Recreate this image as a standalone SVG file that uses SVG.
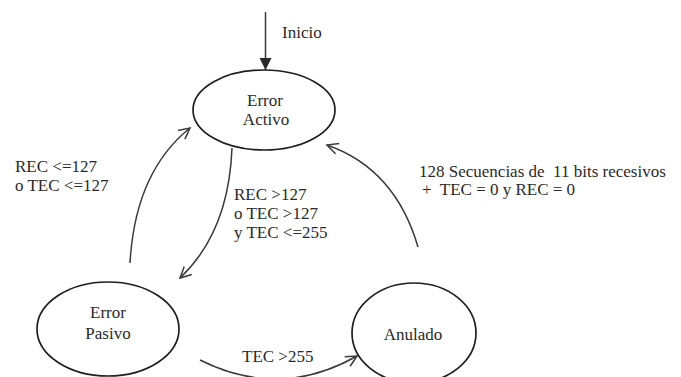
<svg xmlns="http://www.w3.org/2000/svg" width="681" height="377" viewBox="0 0 681 377">
  <style>
    .state { fill: #ffffff; stroke: #1e1e1e; stroke-width: 1.7; }
    .label { font-family: "Liberation Serif", "Times New Roman", serif; font-size: 17px; fill: #2a2a2a; }
    .mid { text-anchor: middle; }
    .edge { fill: none; stroke: #3a3a3a; stroke-width: 1.5; }
  </style>
  <defs>
    <marker id="open" viewBox="-12 -7 14 14" markerWidth="14" markerHeight="14" refX="0" refY="0" orient="auto" markerUnits="userSpaceOnUse">
      <path d="M-11,-5.5 L0,0 L-11,5.5" fill="none" stroke="#3a3a3a" stroke-width="1.5"/>
    </marker>
    <marker id="solid" viewBox="-12 -7 14 14" markerWidth="14" markerHeight="14" refX="0" refY="0" orient="auto" markerUnits="userSpaceOnUse">
      <path d="M-12,-6 L0,0 L-12,6 Z" fill="#2a2a2a"/>
    </marker>
  </defs>

  <rect width="681" height="377" fill="#ffffff"/>

  <!-- transitions -->
  <g id="connectors">
    <line class="edge" x1="265.5" y1="12" x2="265.5" y2="70" marker-end="url(#solid)"/>
    <text class="label" x="282" y="38">Inicio</text>

    <path class="edge" d="M130,263 C133,210 150,160 190,128" marker-end="url(#open)"/>
    <text class="label" x="15" y="172">REC &lt;=127</text>
    <text class="label" x="15" y="191">o TEC &lt;=127</text>

    <path class="edge" d="M232,148 C230,200 215,245 180,278" marker-end="url(#open)"/>
    <text class="label" x="234" y="200">REC &gt;127</text>
    <text class="label" x="234" y="219">o TEC &gt;127</text>
    <text class="label" x="234" y="238">y TEC &lt;=255</text>

    <path class="edge" d="M418,247 C402,192 370,160 327,145" marker-end="url(#open)"/>
    <text class="label" x="419" y="177" xml:space="preserve">128 Secuencias de  11 bits recesivos</text>
    <text class="label" x="422" y="195" xml:space="preserve">+  TEC = 0 y REC = 0</text>

    <path class="edge" d="M200,360 Q280,400 357,356" marker-end="url(#open)"/>
    <text class="label" x="242" y="362">TEC &gt;255</text>
  </g>

  <!-- states -->
  <g id="error-activo">
    <ellipse class="state" cx="264" cy="110" rx="71" ry="40"/>
    <text class="label mid" x="265" y="106">Error</text>
    <text class="label mid" x="266" y="125">Activo</text>
  </g>

  <g id="error-pasivo">
    <ellipse class="state" cx="108" cy="329" rx="71" ry="47"/>
    <text class="label mid" x="108" y="318">Error</text>
    <text class="label mid" x="108" y="339">Pasivo</text>
  </g>

  <g id="anulado">
    <ellipse class="state" cx="414" cy="333" rx="62" ry="50"/>
    <text class="label mid" x="413" y="340">Anulado</text>
  </g>
</svg>
